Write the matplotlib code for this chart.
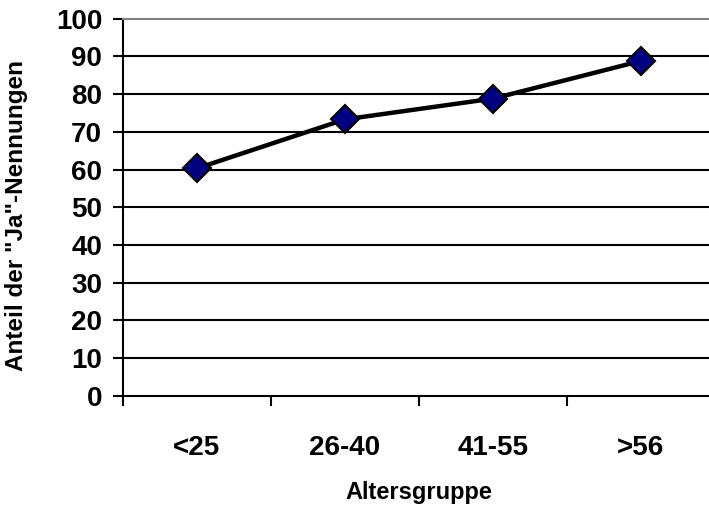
import matplotlib
matplotlib.use("Agg")
import matplotlib.pyplot as plt

# Daten
categories = ["<25", "26-40", "41-55", ">56"]
ja_anteil = [60.3, 73.3, 78.8, 88.8]
y_ticks = [0, 10, 20, 30, 40, 50, 60, 70, 80, 90, 100]

plt.rcParams['font.family'] = ['Liberation Sans', 'DejaVu Sans']
plt.rcParams['font.weight'] = 'bold'

fig = plt.figure(figsize=(7.09, 5.09), dpi=100)
ax = fig.add_axes([123/709, 1 - 395.7/509, (715 - 123)/709, (395.7 - 18.7)/509])

x = [i + 0.5 for i in range(len(categories))]
ax.plot(x, ja_anteil, color='black', lw=3.2, zorder=3,
        marker='D', markersize=14, markerfacecolor='#000080',
        markeredgecolor='black', markeredgewidth=1.5)

ax.set_xlim(0, len(categories))
ax.set_ylim(0, 100)

# Gitterlinien
for v in y_ticks[1:-1]:
    ax.axhline(v, color='black', lw=1.5, zorder=1)

ax.set_yticks(y_ticks)
ax.set_yticklabels([str(v) for v in y_ticks], fontsize=20, fontweight='bold')
ax.tick_params(axis='y', direction='out', length=7, width=1.5, pad=8)

ax.set_xticks(range(len(categories) + 1))
ax.set_xticklabels([])
ax.set_xticks(x, minor=True)
ax.set_xticklabels(categories, minor=True, fontsize=20, fontweight='bold')
ax.tick_params(axis='x', which='major', direction='out', length=7, width=1.5)
ax.tick_params(axis='x', which='minor', length=0, pad=28)

ax.spines['left'].set_linewidth(1.5)
ax.spines['bottom'].set_linewidth(1.5)
ax.spines['top'].set_color('#808080')
ax.spines['top'].set_linewidth(1.5)
ax.spines['right'].set_visible(False)

fig.text(17/709, 1 - 216/509, 'Anteil der "Ja"-Nennungen', rotation=90,
         ha='center', va='center', fontsize=17.5, fontweight='bold')
fig.text(419/709, 1 - 493/509, 'Altersgruppe',
         ha='center', va='center', fontsize=17, fontweight='bold')

fig.savefig("out.png", dpi=100)
